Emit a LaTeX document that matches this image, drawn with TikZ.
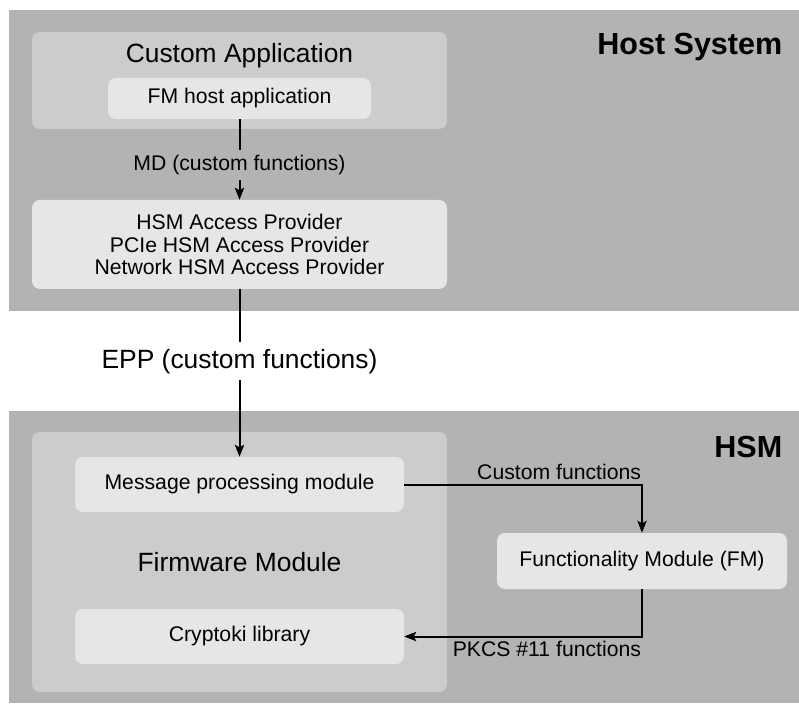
\documentclass[tikz,border=0pt]{standalone}
\usepackage{fontspec}
\setmainfont{Liberation Sans}
\usetikzlibrary{arrows.meta, positioning, calc}
\definecolor{systemGray}{RGB}{179,179,179}
\definecolor{moduleGray}{RGB}{204,204,204}
\definecolor{boxGray}{RGB}{230,230,230}

\begin{document}
\begin{tikzpicture}[
    x=0.75pt, y=-0.75pt,
    system/.style={fill=systemGray, draw=none},
    module/.style={fill=moduleGray, draw=none, rounded corners=6pt},
    box/.style={rectangle, fill=boxGray, rounded corners=6pt, font=\fontsize{15.9}{18}\selectfont, align=center},
    title/.style={font=\fontsize{19.8}{22}\selectfont},
    sysname/.style={font=\fontsize{22.9}{25}\selectfont\bfseries, anchor=east},
    label/.style={font=\fontsize{15.9}{18}\selectfont},
    arrow/.style={-{Stealth[length=9pt, width=7pt, inset=2pt]}, line width=1.5pt}
]
\useasboundingbox (0,0) rectangle (799,705);

% Host system
\fill[system] (9,10) rectangle (799,311);
\node[sysname] (hostname) at (787,47) {Host System};
\fill[module] (32,32) rectangle (447,129);
\node[title] (custapp) at (239.5,56) {Custom Application};
\node[box, minimum width=263*0.75pt, minimum height=41*0.75pt] (fmhost) at (239.5,98.5) {FM host application};
\node[box, minimum width=415*0.75pt, minimum height=89*0.75pt] (provider) at (239.5,244.5)
    {HSM Access Provider\\[-1.2pt] PCIe HSM Access Provider\\[-1.2pt] Network HSM Access Provider};

% HSM
\fill[system] (9,411) rectangle (799,703);
\node[sysname] (hsmname) at (787,447) {HSM};
\fill[module] (32,432) rectangle (447,692);
\node[title] (firmware) at (239.5,562) {Firmware Module};
\node[box, minimum width=329*0.75pt, minimum height=55*0.75pt] (msgproc) at (239.5,484.5) {Message processing module};
\node[box, minimum width=329*0.75pt, minimum height=55*0.75pt] (cryptoki) at (239.5,636.5) {Cryptoki library};
\node[box, minimum width=290*0.75pt, minimum height=56*0.75pt] (fm) at (642,561) {Functionality Module (FM)};

% Connectors
\draw[arrow] (fmhost) -- node[label, pos=0.57, fill=systemGray, inner xsep=1pt, inner ysep=4pt] {MD (custom functions)} (provider);
\draw[arrow] (provider) -- node[pos=0.43, fill=white, inner xsep=1pt, inner ysep=5pt, title] {EPP (custom functions)} (msgproc);
\draw[arrow] (msgproc.east) -| node[label, pos=0.5, above left, inner xsep=0pt, inner ysep=3pt] {Custom functions} (fm.north);
\draw[arrow] (fm.south) |- node[label, pos=0.5, below left, inner xsep=0pt, inner ysep=3pt] {PKCS \#11 functions} (cryptoki.east);

\end{tikzpicture}
\end{document}
